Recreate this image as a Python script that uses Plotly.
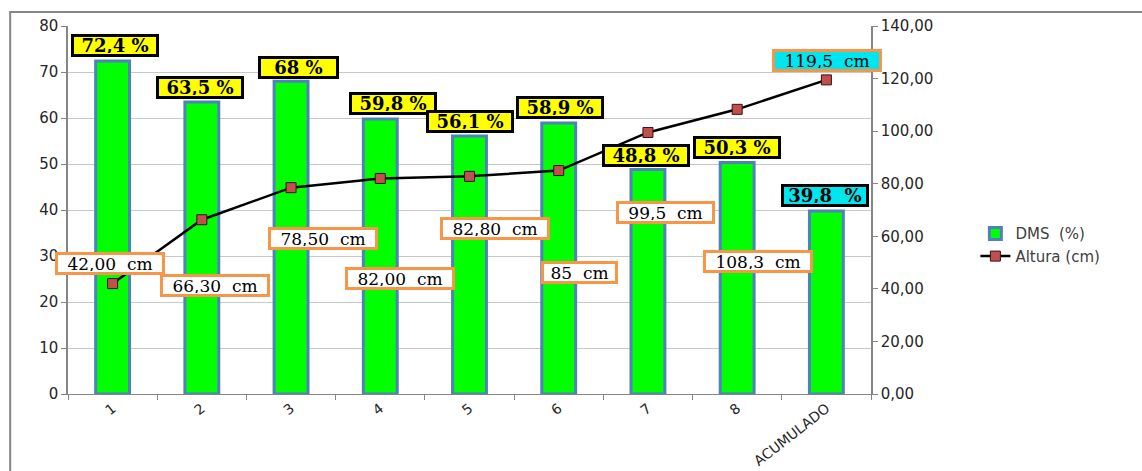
import plotly.graph_objects as go

# ---- data ----
categories = ["1", "2", "3", "4", "5", "6", "7", "8", "ACUMULADO"]
dms_pct = [72.4, 63.5, 68.0, 59.8, 56.1, 58.9, 48.8, 50.3, 39.8]
altura_cm = [42.00, 66.30, 78.50, 82.00, 82.80, 85.00, 99.5, 108.3, 119.5]
dms_labels = ["72,4 %", "63,5 %", "68 %", "59,8 %", "56,1 %", "58,9 %", "48,8 %", "50,3 %", "39,8  %"]
altura_labels = ["42,00  cm", "66,30  cm", "78,50  cm", "82,00  cm", "82,80  cm", "85  cm", "99,5  cm", "108,3  cm", "119,5  cm"]
left_ticks = [0, 10, 20, 30, 40, 50, 60, 70, 80]
right_ticks = [0, 20, 40, 60, 80, 100, 120, 140]

# ---- label placement (pixel offsets from the data point) ----
dms_shift = [(2, 15), (-2, 14), (7, 14), (13, 15), (0, 14), (1, 16), (-2, 14), (0, 15), (-1, 15)]
alt_shift = [(-3, 20), (13, -66), (32, -51), (20, -100), (25, -52), (21, -102), (18, -80), (21, -152), (1, 19)]

fig = go.Figure()
fig.add_trace(go.Bar(
    x=categories, y=dms_pct, name="DMS  (%)",
    marker=dict(color="#00FF00", line=dict(color="#4F81BD", width=3)),
    width=0.38, yaxis="y",
))
fig.add_trace(go.Scatter(
    x=categories, y=altura_cm, name="Altura (cm)", mode="lines+markers",
    line=dict(color="black", width=2.5),
    marker=dict(symbol="square", size=10, color="#C0504D", line=dict(color="#3a1010", width=1)),
    yaxis="y2",
))

ann = []
for i, c in enumerate(categories):
    last = i == len(categories) - 1
    dx, dy = dms_shift[i]
    ann.append(dict(
        x=i, y=dms_pct[i], xref="x", yref="y", xshift=dx, yshift=dy,
        text=dms_labels[i], showarrow=False,
        font=dict(family="DejaVu Serif", size=18, color="black", weight="bold"),
        bgcolor="#00E5EE" if last else "#FFFF00",
        bordercolor="black", borderwidth=3, borderpad=1,
        width=80 if len(dms_labels[i]) > 4 else 73, height=15,
    ))
    dx, dy = alt_shift[i]
    n = len(altura_labels[i].replace("  ", " "))
    ann.append(dict(
        x=i, y=altura_cm[i], xref="x", yref="y2", xshift=dx, yshift=dy,
        text=altura_labels[i], showarrow=False,
        font=dict(family="DejaVu Serif", size=17, color="black"),
        bgcolor="#00E5EE" if last else "white",
        bordercolor="#F79646", borderwidth=3, borderpad=1,
        width=11 * n + 14, height=15,
    ))

tick_font = dict(family="DejaVu Sans", size=15, color="#262626")
fig.update_layout(
    width=1142, height=471,
    margin=dict(l=68, r=271, t=26, b=77),
    paper_bgcolor="white", plot_bgcolor="white",
    separators=", ",
    showlegend=True,
    legend=dict(x=1.13, y=0.48, xanchor="left", yanchor="top",
                font=dict(family="DejaVu Sans", size=15, color="#404040"),
                bgcolor="rgba(0,0,0,0)"),
    bargap=0.6,
    annotations=ann,
    xaxis=dict(type="category", range=[-0.5, 8.5], tickangle=-38, tickson="boundaries",
               ticks="outside", ticklen=5, tickcolor="#868686", showline=True,
               linecolor="#868686", linewidth=1, showgrid=False, automargin=False,
               tickfont=dict(family="DejaVu Sans", size=14, color="#262626")),
    yaxis=dict(range=[0, 80], tickvals=left_ticks, ticks="outside", ticklen=5,
               tickcolor="#868686", showline=True, linecolor="#868686", linewidth=1.5,
               showgrid=True, gridcolor="#C8C8C8", gridwidth=1, zeroline=False,
               automargin=False, tickfont=tick_font),
    yaxis2=dict(range=[0, 140], tickvals=right_ticks, tickformat=".2f", overlaying="y",
                side="right", ticks="outside", ticklen=5, tickcolor="#868686",
                showline=True, linecolor="#868686", linewidth=1.5, showgrid=False,
                zeroline=False, automargin=False, tickfont=tick_font),
    shapes=[dict(type="rect", xref="paper", yref="paper", x0=-0.072, x1=1.4,
                 y0=-0.4, y1=1.038, line=dict(color="#868686", width=2), layer="below")],
)

fig.write_html("out.html", config={"displayModeBar": False},
               post_script="document.body.style.margin='0';")
